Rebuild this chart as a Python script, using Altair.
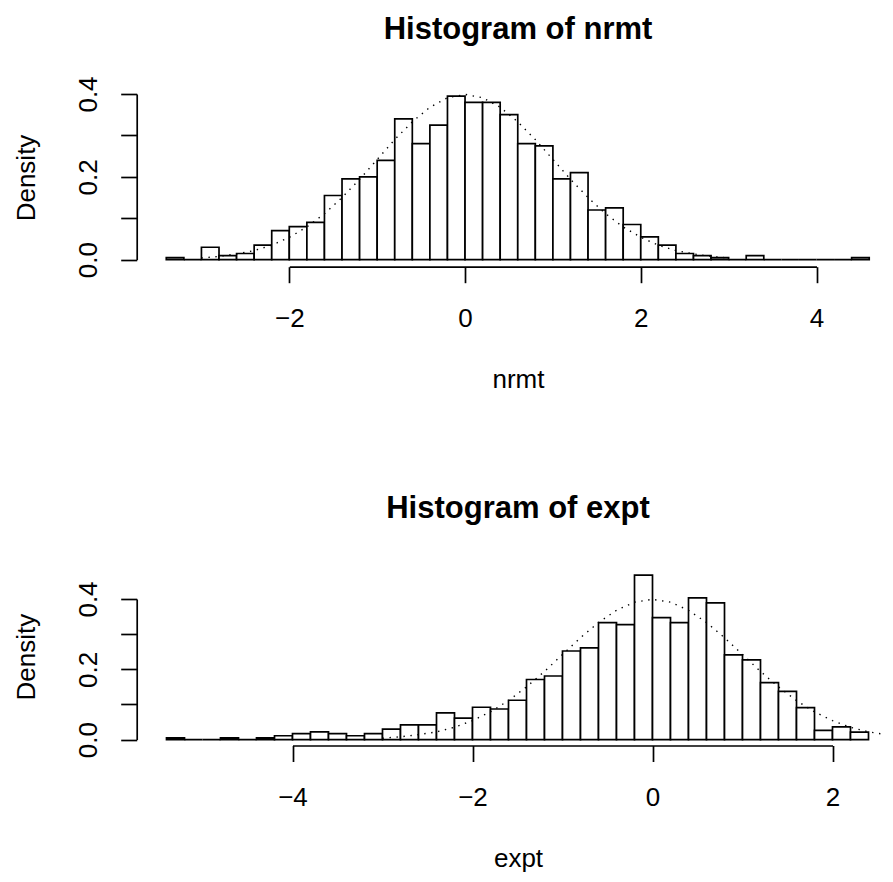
import altair as alt
import pandas as pd

FONT = "Liberation Sans"

# ---- data ----
bin_width = 0.2
nrmt_start = -3.4
nrmt_density = [0.005, 0, 0.03, 0.01, 0.015, 0.035, 0.07, 0.08, 0.09, 0.155,
                0.195, 0.2, 0.24, 0.34, 0.28, 0.325, 0.395, 0.38, 0.38, 0.35,
                0.28, 0.275, 0.195, 0.21, 0.12, 0.125, 0.085, 0.055, 0.035, 0.015,
                0.01, 0.005, 0, 0.01, 0, 0, 0, 0, 0, 0.005]
expt_start = -5.4
expt_density = [0.005, 0, 0, 0.005, 0, 0.005, 0.011, 0.017, 0.022, 0.017,
                0.011, 0.017, 0.030, 0.042, 0.042, 0.076, 0.061, 0.092, 0.087, 0.112,
                0.171, 0.181, 0.252, 0.261, 0.333, 0.327, 0.468, 0.347, 0.333, 0.403,
                0.389, 0.241, 0.227, 0.162, 0.137, 0.091, 0.026, 0.036, 0.021]

# dotted reference density curve (drawn between -3 and 3)
curve_x = [-3.0, -2.8, -2.6, -2.4, -2.2, -2.0, -1.8, -1.6, -1.4, -1.2, -1.0,
           -0.8, -0.6, -0.4, -0.2, 0.0, 0.2, 0.4, 0.6, 0.8, 1.0, 1.2, 1.4,
           1.6, 1.8, 2.0, 2.2, 2.4, 2.6, 2.8, 3.0]
curve_y = [0.004, 0.008, 0.014, 0.022, 0.035, 0.054, 0.079, 0.111, 0.150,
           0.194, 0.242, 0.290, 0.333, 0.368, 0.391, 0.399, 0.391, 0.368,
           0.333, 0.290, 0.242, 0.194, 0.150, 0.111, 0.079, 0.054, 0.035,
           0.022, 0.014, 0.008, 0.004]

titles = ["Histogram of nrmt", "Histogram of expt"]
xlabels = ["nrmt", "expt"]
ylabel = "Density"
nrmt_xticks = [-2, 0, 2, 4]
expt_xticks = [-4, -2, 0, 2]
y_ticks = [0.0, 0.1, 0.2, 0.3, 0.4]

W, H = 877, 866


def bars_df(start, dens):
    left = [round(start + bin_width * i, 2) for i in range(len(dens))]
    return pd.DataFrame({"left": left,
                         "right": [round(l + bin_width, 2) for l in left],
                         "density": dens,
                         "zero": [0] * len(dens)})


def panel(df, xdom, xrange, yrange, xticks, title, xlab,
          axis_y, title_base, ytitle_center):
    xs = alt.Scale(domain=xdom, range=xrange)
    ys = alt.Scale(domain=[0, 0.4], range=yrange)
    xaxis = alt.Axis(values=xticks, orient="bottom", offset=axis_y - H,
                     grid=False, domainColor="black", domainWidth=1.7,
                     tickColor="black", tickWidth=1.7, tickSize=16,
                     labelFont=FONT, labelFontSize=26, labelColor="black",
                     labelBaseline="alphabetic", labelAlign="center",
                     labelPadding=44, labelFlush=False, labelOverlap=False,
                     labelExpr="replace(format(datum.value, 'd'), '-', '\u2212')",
                     title=xlab, titleFont=FONT, titleFontSize=26,
                     titleFontWeight="normal", titleColor="black",
                     titleX=510, titleY=121, titleBaseline="alphabetic",
                     titleAlign="center")
    yaxis = alt.Axis(values=y_ticks, orient="left", offset=-128.7,
                     grid=False, domainColor="black", domainWidth=1.7,
                     tickColor="black", tickWidth=1.7, tickSize=16,
                     labelFont=FONT, labelFontSize=26, labelColor="black",
                     labelAngle=270, labelAlign="center",
                     labelBaseline="alphabetic", labelPadding=24,
                     labelFlush=False, labelOverlap=False,
                     labelExpr="round(datum.value*10) % 2 == 0 ? format(datum.value, '.1f') : ''",
                     title=ylabel, titleFont=FONT, titleFontSize=26,
                     titleFontWeight="normal", titleColor="black",
                     titleAngle=270, titleX=-102.2, titleY=ytitle_center,
                     titleBaseline="alphabetic", titleAlign="center")
    bars = alt.Chart(df).mark_rect(fill="white", stroke="black",
                                   strokeWidth=1.7).encode(
        x=alt.X("left:Q", scale=xs, axis=xaxis),
        x2="right:Q",
        y=alt.Y("density:Q", scale=ys, axis=yaxis),
        y2="zero:Q",
    )
    cdf = pd.DataFrame({"x": curve_x, "y": curve_y})
    curve = alt.Chart(cdf).mark_line(color="black", strokeWidth=1.4,
                                     strokeDash=[1.4, 5.6]).encode(
        x=alt.X("x:Q", scale=xs, axis=None),
        y=alt.Y("y:Q", scale=ys, axis=None),
    )
    ttl = alt.Chart(pd.DataFrame({"t": [title]})).mark_text(
        font=FONT, fontSize=31, fontWeight="bold", color="black",
        align="center", baseline="alphabetic").encode(
        text="t:N", x=alt.value(510), y=alt.value(title_base))
    return [bars, curve, ttl]


top = panel(bars_df(nrmt_start, nrmt_density), [-2, 4],
            [281.3, 808.5], [251.7, 86.0], nrmt_xticks, titles[0], xlabels[0],
            258.7, 31, 169.5)
bottom = panel(bars_df(expt_start, expt_density), [-4, 2],
               [284.5, 824.5], [731.6, 591.0], expt_xticks, titles[1], xlabels[1],
               737.5, 510, 648.7)

chart = alt.layer(*(top + bottom)).resolve_scale(
    x="independent", y="independent"
).properties(
    width=W, height=H, padding=0,
    autosize=alt.AutoSizeParams(type="none"),
    background="white",
).configure_view(stroke=None)

chart.save("out.html", embed_options={"renderer": "svg", "actions": False})
